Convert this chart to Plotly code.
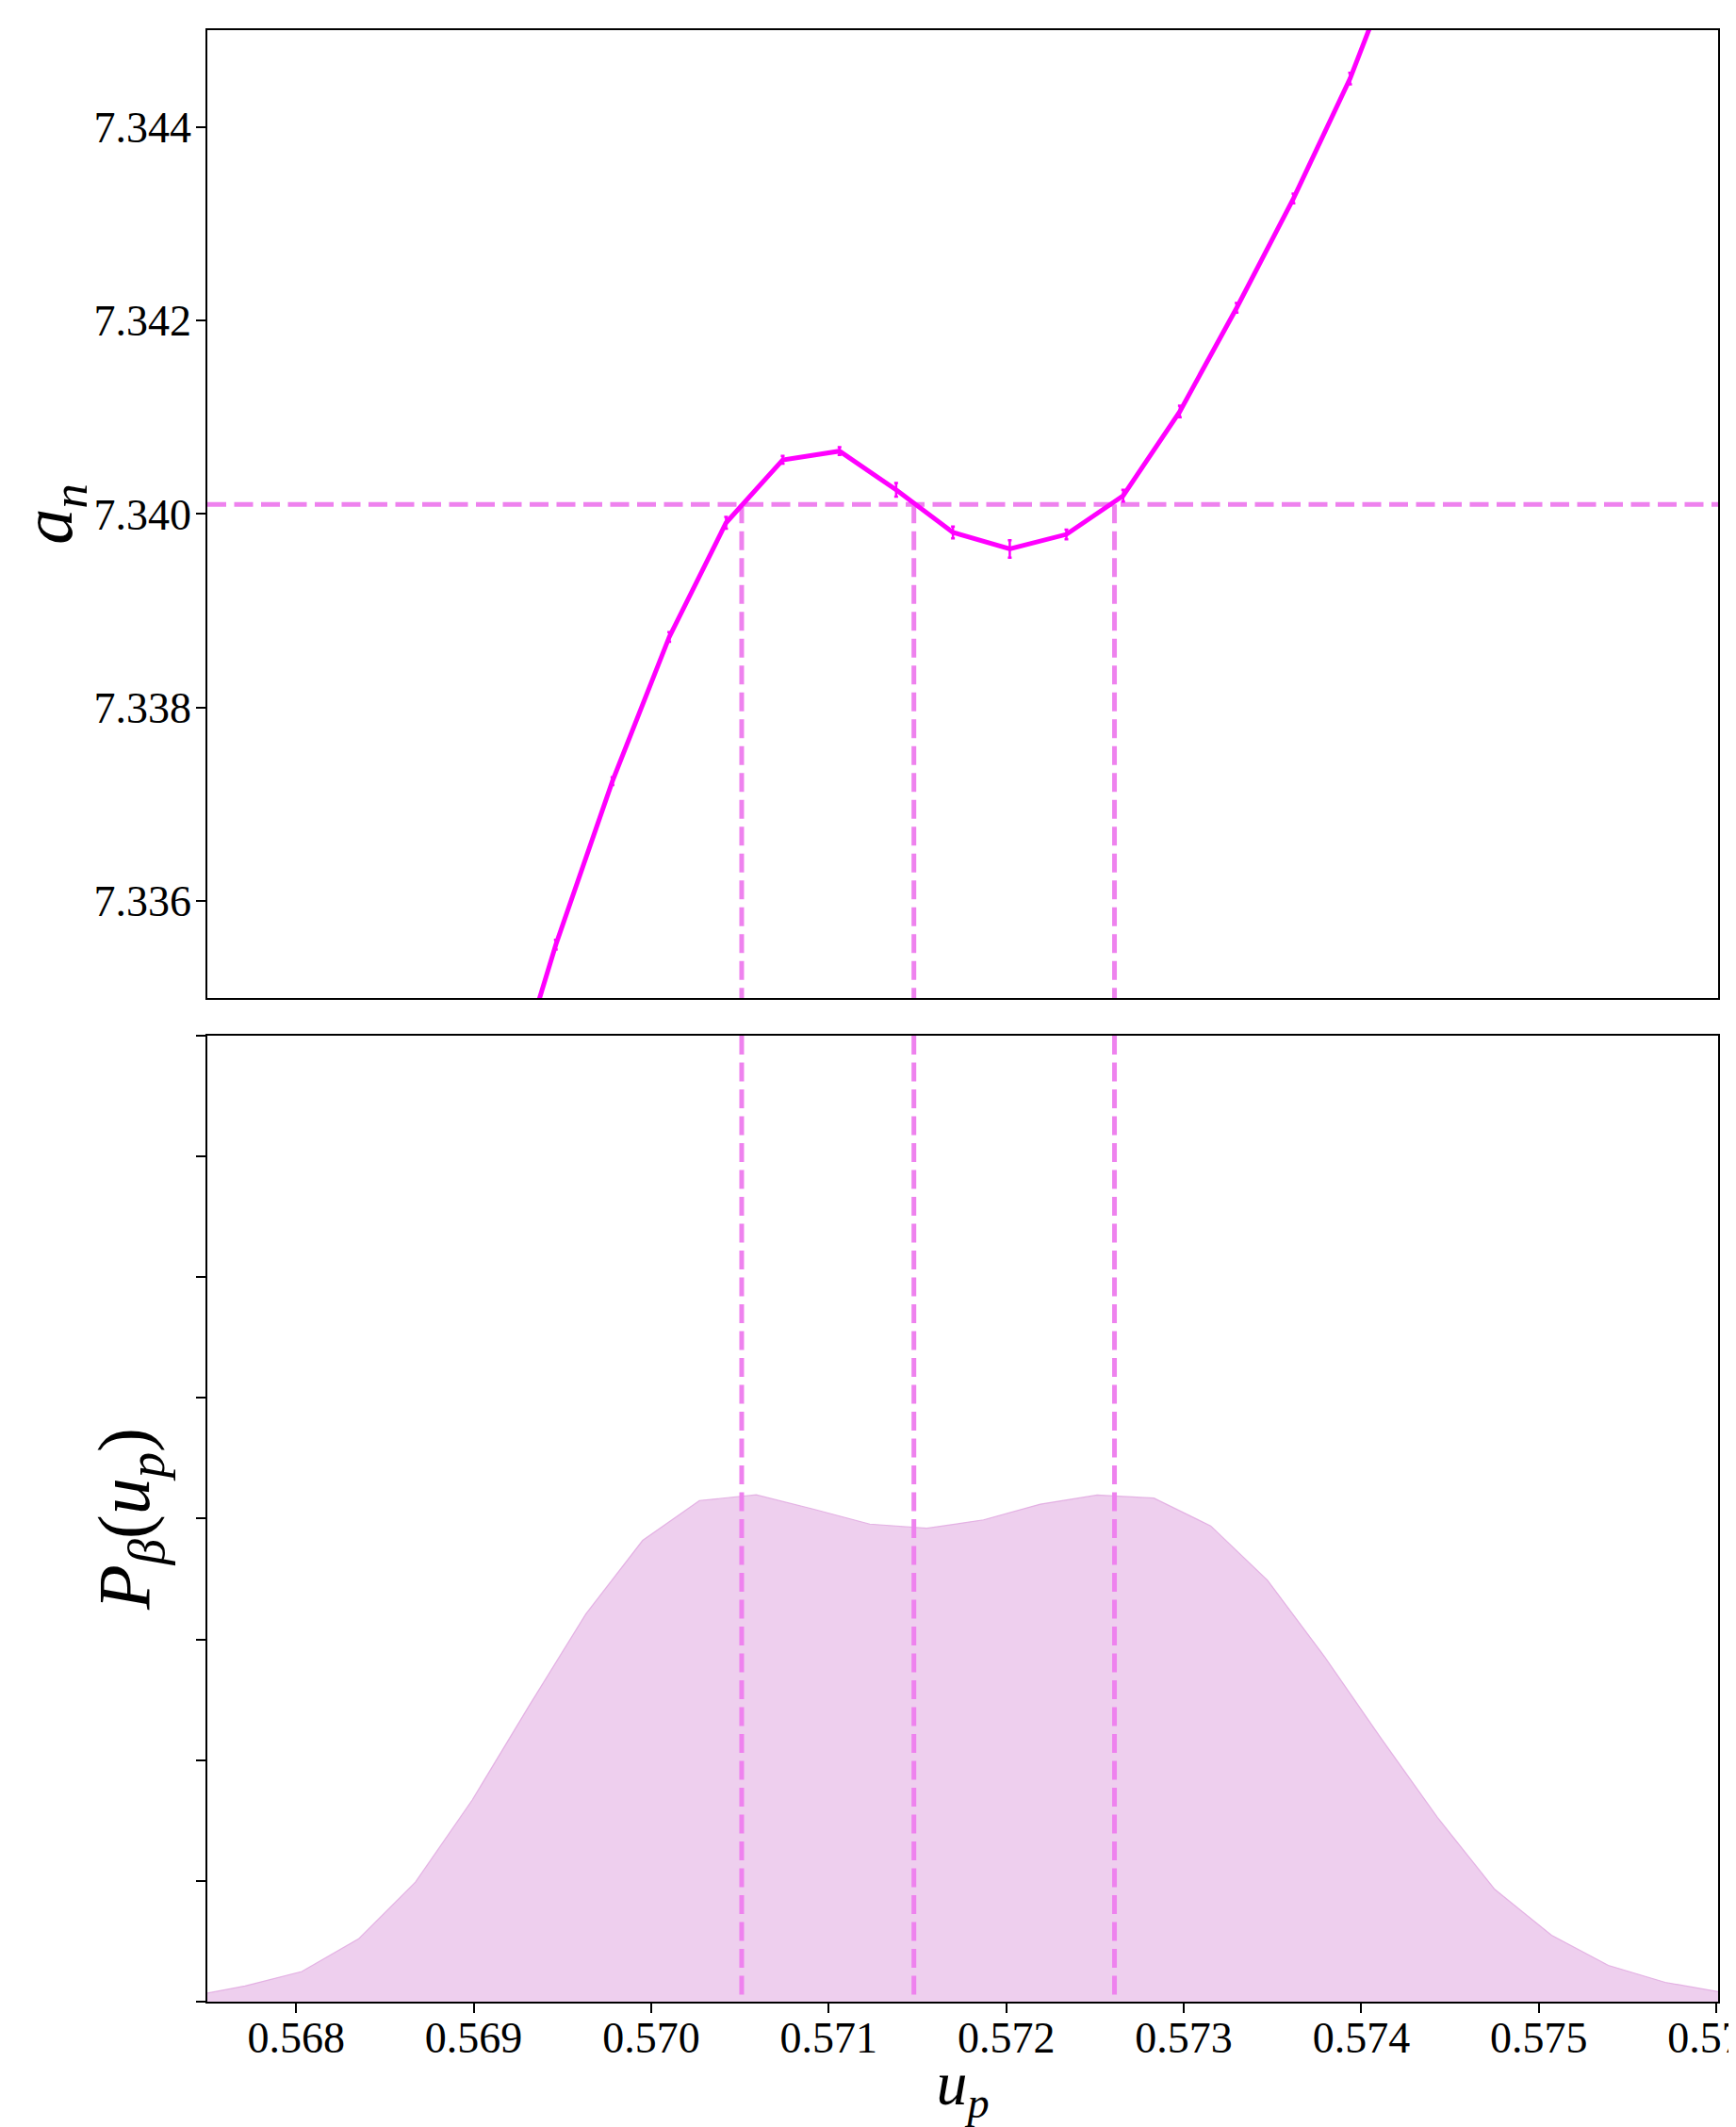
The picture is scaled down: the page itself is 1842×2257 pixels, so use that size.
import plotly.graph_objects as go

# ---------------- data ----------------
# top panel: a_n versus u_p (with small error bars)
u_top = [0.569143, 0.569463, 0.569782, 0.570102, 0.570422, 0.570741, 0.571061,
         0.571380, 0.571700, 0.572020, 0.572339, 0.572659, 0.572978, 0.573298,
         0.573618, 0.573937, 0.574257]
a_n = [7.33362, 7.33555, 7.33724, 7.33873, 7.33991, 7.34056, 7.34065,
       7.34025, 7.33981, 7.33964, 7.33979, 7.34019, 7.34106, 7.34213,
       7.34326, 7.34450, 7.34602]
a_n_err = [0.00005, 0.00005, 0.00004, 0.00005, 0.00006, 0.00004, 0.00004,
           0.00007, 0.00006, 0.00009, 0.00005, 0.00006, 0.00006, 0.00005,
           0.00005, 0.00006, 0.00005]

# equal-area level and its crossings
a_level = 7.3401
u_cross = [0.57051, 0.57148, 0.57261]

# bottom panel: distribution P_beta(u_p) (arbitrary units, tick spacing = 1)
u_dist = [0.567392, 0.567712, 0.568032, 0.568352, 0.568672, 0.568992, 0.569312,
          0.569632, 0.569952, 0.570272, 0.570592, 0.570912, 0.571232, 0.571552,
          0.571872, 0.572192, 0.572512, 0.572832, 0.573152, 0.573472, 0.573792,
          0.574112, 0.574432, 0.574752, 0.575072, 0.575392, 0.575712, 0.576032]
p_dist = [0.04, 0.13, 0.25, 0.52, 0.99, 1.67, 2.45,
          3.21, 3.82, 4.15, 4.197, 4.08, 3.955, 3.92,
          3.99, 4.12, 4.195, 4.17, 3.94, 3.49, 2.86,
          2.18, 1.52, 0.93, 0.55, 0.30, 0.16, 0.078]

x_range = [0.5675, 0.57601]
x_ticks = [0.568, 0.569, 0.570, 0.571, 0.572, 0.573, 0.574, 0.575, 0.576]
y_top_range = [7.335, 7.345]
y_top_ticks = [7.336, 7.338, 7.340, 7.342, 7.344]
y_bot_range = [0, 8]
y_bot_ticks = [0, 1, 2, 3, 4, 5, 6, 7, 8]

# ---------------- styles ----------------
MAGENTA = "#FF00FF"
VIOLET = "#EE82EE"
DASH = "20px,8.5px"
FONT = "Liberation Serif"

fig = go.Figure()

# bottom: filled distribution
fig.add_trace(go.Scatter(
    x=u_dist, y=p_dist, mode="lines", fill="tozeroy",
    fillcolor="rgba(221,160,221,0.5)",
    line=dict(color="rgba(221,160,221,0.75)", width=1.2),
    xaxis="x2", yaxis="y2", hoverinfo="skip", showlegend=False))

# bottom: vertical dashed lines at crossings
for uc in u_cross:
    fig.add_trace(go.Scatter(
        x=[uc, uc], y=[y_bot_range[1], y_bot_range[0]], mode="lines",
        line=dict(color=VIOLET, width=5, dash=DASH),
        xaxis="x2", yaxis="y2", showlegend=False, hoverinfo="skip"))

# top: horizontal dashed level
fig.add_trace(go.Scatter(
    x=x_range, y=[a_level, a_level], mode="lines",
    line=dict(color=VIOLET, width=5, dash=DASH),
    xaxis="x", yaxis="y", showlegend=False, hoverinfo="skip"))

# top: vertical dashed lines from level to bottom
for uc in u_cross:
    fig.add_trace(go.Scatter(
        x=[uc, uc], y=[a_level, y_top_range[0]], mode="lines",
        line=dict(color=VIOLET, width=5, dash=DASH),
        xaxis="x", yaxis="y", showlegend=False, hoverinfo="skip"))

# top: a_n curve with error bars
fig.add_trace(go.Scatter(
    x=u_top, y=a_n, mode="lines",
    line=dict(color=MAGENTA, width=5),
    error_y=dict(type="data", array=a_n_err, visible=True,
                 color=MAGENTA, thickness=2.5, width=2),
    xaxis="x", yaxis="y", showlegend=False))

axis_common = dict(showline=True, linecolor="black", linewidth=1.8, mirror=True,
                   showgrid=False, zeroline=False, automargin=False)

# page body has an 8px margin: figure is sized so it fits inside the window
fig.update_layout(
    width=1834, height=2249,
    margin=dict(l=212, r=19, t=24, b=133),
    paper_bgcolor="white", plot_bgcolor="white",
    font=dict(family=FONT, size=46, color="black"),
    xaxis=dict(domain=[0, 1], range=x_range, anchor="y",
               showticklabels=False, ticks="", matches="x2", **axis_common),
    yaxis=dict(domain=[0.5091, 1.0], range=y_top_range, anchor="x",
               tickvals=y_top_ticks, tickformat=".3f",
               ticks="outside", ticklen=10, tickwidth=1.8, tickcolor="black",
               ticklabelstandoff=-4,
               title=dict(text="<i>a<sub>n</sub></i>", font=dict(size=76), standoff=29),
               **axis_common),
    xaxis2=dict(domain=[0, 1], range=x_range, anchor="y2",
                tickvals=x_ticks, tickformat=".3f",
                ticks="outside", ticklen=10, tickwidth=1.8, tickcolor="black",
                ticklabelstandoff=-13, ticklabeloverflow="allow",
                title=dict(text="<i>u<sub>p</sub></i>", font=dict(size=66), standoff=24),
                **axis_common),
    yaxis2=dict(domain=[0, 0.490], range=y_bot_range, anchor="x2",
                tickvals=y_bot_ticks, showticklabels=False,
                ticks="outside", ticklen=10, tickwidth=1.8, tickcolor="black",
                title=dict(text="<i>P<sub>β</sub></i>(<i>u<sub>p</sub></i>)",
                           font=dict(size=78), standoff=24),
                **axis_common),
)

fig.write_html("out.html")
